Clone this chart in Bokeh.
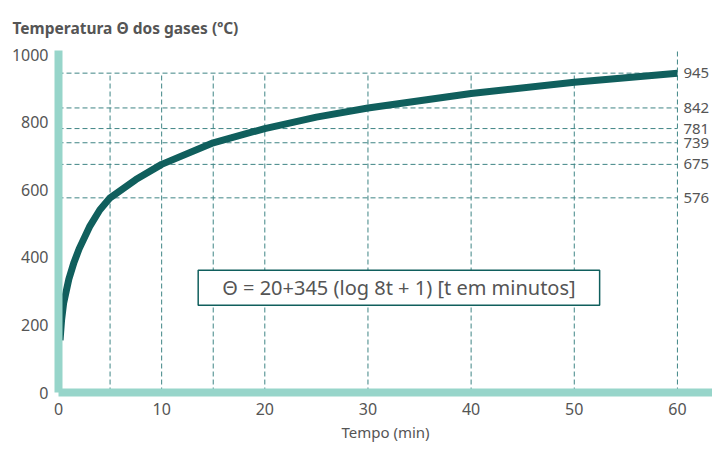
from bokeh.plotting import figure
from bokeh.models import Label, Range1d, FixedTicker, ColumnDataSource
from bokeh.core.properties import value
from bokeh.embed import file_html
from bokeh.resources import INLINE

# curve points (t in minutes, temperature in ºC)
t_vals = [0.15, 0.3, 0.5, 1, 1.5, 2, 3, 4, 5, 7.5, 10, 15, 20, 25, 30, 40, 50, 60]
theta_vals = [155, 215, 265, 335, 385, 425, 490, 540, 576, 630, 675, 739, 781, 815, 842, 885, 918, 945]

# marked reference values
mark_t = [5, 10, 15, 20, 30, 40, 50, 60]
mark_theta = [576, 675, 739, 781, 842, 945]
mark_labels = ["576", "675", "739", "781", "842", "945"]

x_ticks = [0, 10, 20, 30, 40, 50, 60]
y_ticks = [0, 200, 400, 600, 800, 1000]

FONT = "Noto Sans"
TXT = "#555555"
AXIS = "#97d5ca"
CURVE = "#105f5d"
GRID = "#3f8585"

p = figure(width=712, height=444, output_backend="svg", toolbar_location=None,
           x_range=Range1d(0, 63.4), y_range=Range1d(0, 1012),
           min_border_left=58, min_border_right=0, min_border_top=50, min_border_bottom=52)
p.outline_line_color = None
p.grid.visible = False

p.title.text = "Temperatura Θ dos gases (ºC)"
p.title.text_font = FONT
p.title.text_font_size = "15.5px"
p.title.text_font_style = "bold"
p.title.text_color = TXT
p.title.align = "left"
p.title.offset = -46
p.title.standoff = 24

for ax in (p.xaxis[0], p.yaxis[0]):
    ax.axis_line_color = AXIS
    ax.axis_line_width = 8
    ax.major_tick_line_color = None
    ax.minor_tick_line_color = None
    ax.major_tick_out = 0
    ax.major_tick_in = 0
    ax.major_label_text_font = FONT
    ax.major_label_text_font_size = "16px"
    ax.major_label_text_color = TXT
p.xaxis[0].ticker = FixedTicker(ticks=x_ticks)
p.yaxis[0].ticker = FixedTicker(ticks=y_ticks)
p.xaxis[0].major_label_standoff = 10
p.yaxis[0].major_label_standoff = 10
p.xaxis[0].axis_label = "Tempo (min)"
p.xaxis[0].axis_label_text_font = FONT
p.xaxis[0].axis_label_text_font_size = "15px"
p.xaxis[0].axis_label_text_font_style = "normal"
p.xaxis[0].axis_label_text_color = TXT
p.xaxis[0].axis_label_standoff = 4

# dashed reference lines
top_v = max(mark_theta)
vx0 = [t for t in mark_t]
vy1 = [top_v if t != 60 else 1012 for t in mark_t]
p.segment(x0=vx0, y0=[0] * len(mark_t), x1=vx0, y1=vy1,
          line_color=GRID, line_width=1, line_dash="5 3")
p.segment(x0=[0] * len(mark_theta), y0=mark_theta, x1=[60] * len(mark_theta), y1=mark_theta,
          line_color=GRID, line_width=1, line_dash="5 3")

# curve
p.line(t_vals, theta_vals, line_color=CURVE, line_width=7, line_cap="butt", line_join="round")

# right labels
src = ColumnDataSource(dict(x=[60] * len(mark_theta), y=mark_theta, txt=mark_labels))
p.text(x="x", y="y", text="txt", source=src, x_offset=6,
       text_font=value(FONT), text_font_size="15px", text_color=TXT,
       text_align="left", text_baseline="middle")

# formula box
p.add_layout(Label(x=33.0, y=310, text="Θ = 20+345 (log 8t + 1) [t em minutos]",
                   text_font=FONT, text_font_size="20px", text_color=TXT,
                   text_align="center", text_baseline="middle",
                   background_fill_color="white", background_fill_alpha=1.0,
                   border_line_color=CURVE, border_line_width=1.5,
                   padding=(24, 4)))

open("out.html", "w").write(file_html(p, INLINE))
